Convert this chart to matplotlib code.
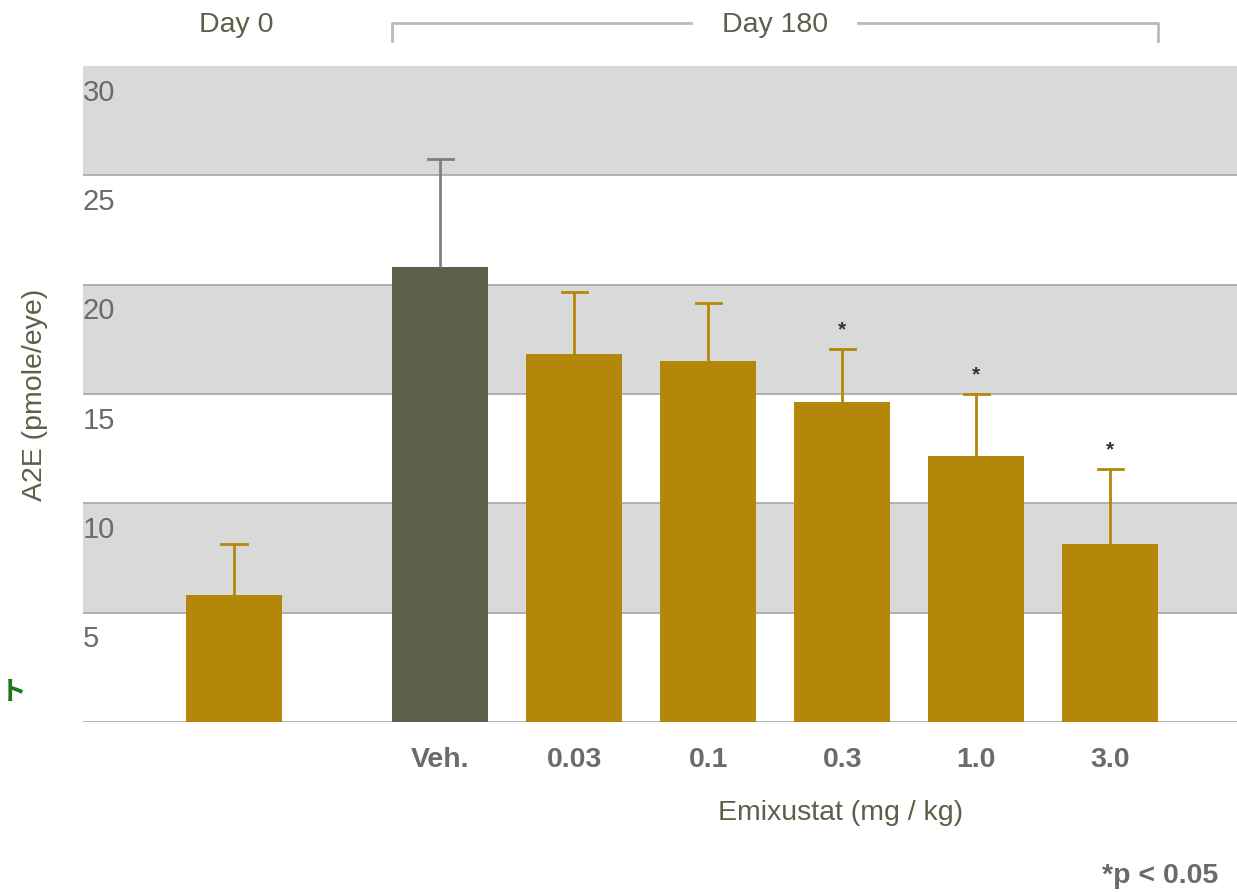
import numpy as np
import matplotlib
matplotlib.use('Agg')
import matplotlib.pyplot as plt
import matplotlib.transforms as mtransforms

# Data
groups = ['Day 0', 'Veh.', '0.03', '0.1', '0.3', '1.0', '3.0']
xpos = [0, 1.54, 2.54, 3.54, 4.54, 5.54, 6.54]
a2e = [5.8, 20.8, 16.85, 16.5, 14.65, 12.15, 8.15]
a2e_err = [2.35, 4.95, 2.8, 2.65, 2.4, 2.85, 3.4]
signif = [False, False, False, False, True, True, True]
yticks = [5, 10, 15, 20, 25, 30]

gold = '#B3880A'
olive = '#5E5F4A'
grey_txt = '#6B6B6B'
font = 'Liberation Sans'

fig = plt.figure(figsize=(12.37, 8.92), dpi=100)
ax = fig.add_axes([83 / 1237, 1 - 722 / 892, 1 - 83 / 1237, 656 / 892])
ax.set_xlim(-1.127, 7.485)
ax.set_ylim(0, 30)

# alternating bands and grid lines
for lo in [5, 15, 25]:
    ax.axhspan(lo, lo + 5, color='#D9D9D9', lw=0, zorder=0)
for y in [0] + yticks[:-1]:
    ax.axhline(y, color='#A6A6A6', lw=1.2, zorder=1)

bar_w = 0.716
cap_w = 0.187
colors = [gold, olive] + [gold] * 5
ecolors = [gold, '#808080'] + [gold] * 5
for x, v, e, c, ec, s in zip(xpos, a2e, a2e_err, colors, ecolors, signif):
    ax.bar(x, v, width=bar_w, color=c, zorder=2)
    # upper error bar only, cap at the top
    ax.plot([x, x], [v, v + e], color=ec, lw=2, zorder=3, solid_capstyle='butt')
    ax.plot([x - cap_w / 2, x + cap_w / 2], [v + e, v + e], color=ec, lw=2, zorder=3)
    if s:
        ax.text(x, v + e + 0.45, '*', ha='center', va='bottom', fontsize=15,
                fontweight='bold', color='#333333', family=font)

# y tick labels sit just under each line
for t in yticks:
    ax.text(-1.127, t - 0.58, str(t), ha='left', va='top', fontsize=21,
            color=grey_txt, family=font)

ax.set_xticks([])
ax.set_yticks([])
for sp in ax.spines.values():
    sp.set_visible(False)

# x category labels
for x, g in zip(xpos[1:], groups[1:]):
    ax.text(x, -1.73, g, ha='center', va='center', fontsize=20.5, fontweight='bold',
            color=grey_txt, family=font)

trans = mtransforms.blended_transform_factory(ax.transData, ax.transAxes)
ax.text(xpos[0] + 0.015, 1.062, 'Day 0', transform=trans, ha='center', va='center',
        fontsize=20.5, color=olive, family=font, clip_on=False)
mid = (xpos[1] + xpos[-1]) / 2
ax.text(mid, 1.062, 'Day 180', transform=trans, ha='center', va='center',
        fontsize=20.5, color=olive, family=font, clip_on=False)
left = xpos[1] - bar_w / 2
right = xpos[-1] + bar_w / 2
ax.plot([left, left, mid - 0.63], [1.038, 1.0655, 1.0655], transform=trans,
        color='#BBBBBB', lw=2, clip_on=False)
ax.plot([mid + 0.62, right, right], [1.0655, 1.0655, 1.038], transform=trans,
        color='#BBBBBB', lw=2, clip_on=False)

fig.text(35 / 1237, 1 - 395 / 892, 'A2E (pmole/eye)', rotation=90, ha='center',
         va='center', fontsize=20.5, color=olive, family=font)
fig.text(841 / 1237, 1 - 813 / 892, 'Emixustat (mg / kg)', ha='center', va='center',
         fontsize=20.5, color=olive, family=font)
fig.text(1160 / 1237, 1 - 876 / 892, '*p < 0.05', ha='center', va='center',
         fontsize=20.5, fontweight='bold', color=grey_txt, family=font)
fig.text(27 / 1237, 1 - 693 / 892, 'テキスト', ha='right', va='center',
         fontsize=19, fontweight='bold', color='#1A7A1A',
         family=['Noto Sans CJK JP', 'DejaVu Sans'])

fig.savefig('out.png', dpi=100)
